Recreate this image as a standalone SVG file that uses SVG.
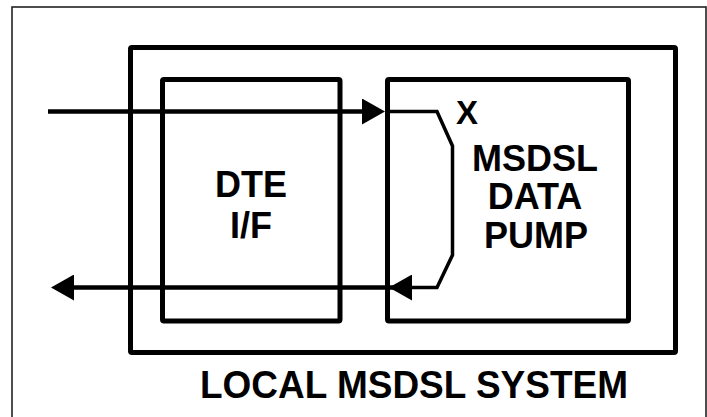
<svg xmlns="http://www.w3.org/2000/svg" width="707" height="417" viewBox="0 0 707 417">
  <style>
    .frame { fill: none; stroke: #222; stroke-width: 1.6; }
    .box { fill: none; stroke: #000; stroke-width: 5; stroke-linejoin: round; }
    .wire { fill: none; stroke: #000; stroke-width: 4.5; }
    .inner { fill: none; stroke: #000; stroke-width: 3.5; stroke-linejoin: miter; }
    .lbl { font-family: "Liberation Sans", Arial, Helvetica, sans-serif; font-weight: bold; fill: #000; }
  </style>
  <defs>
    <marker id="arrow" markerUnits="userSpaceOnUse" viewBox="0 0 23 26" refX="13" refY="13" markerWidth="23" markerHeight="26" orient="auto">
      <path d="M0,0 L23,13 L0,26 Z" fill="#000"/>
    </marker>
  </defs>
  <rect class="frame" x="12" y="7" width="694" height="420"/>

  <g id="local-msdsl-system">
    <rect class="box" x="130.5" y="47.5" width="545" height="305" rx="1.5"/>
    <text class="lbl" x="414" y="397.5" font-size="38" text-anchor="middle" textLength="428" lengthAdjust="spacingAndGlyphs">LOCAL MSDSL SYSTEM</text>
  </g>

  <g id="dte-if">
    <rect class="box" x="162.5" y="79.5" width="177.5" height="241.5" rx="1.5"/>
    <text class="lbl" x="251" y="197.3" font-size="36" text-anchor="middle">DTE</text>
    <text class="lbl" x="251" y="238.3" font-size="36" text-anchor="middle">I/F</text>
  </g>

  <g id="msdsl-data-pump">
    <rect class="box" x="387.5" y="79.5" width="241" height="241.5" rx="1.5"/>
    <text class="lbl" x="456" y="124" font-size="33">X</text>
    <text class="lbl" x="535" y="170.7" font-size="36" text-anchor="middle">MSDSL</text>
    <text class="lbl" x="535" y="209.3" font-size="36" text-anchor="middle">DATA</text>
    <text class="lbl" x="536" y="248.3" font-size="36" text-anchor="middle">PUMP</text>
  </g>

  <g id="connectors">
    <path class="wire" d="M48,111.5 H375" marker-end="url(#arrow)"/>
    <path class="inner" d="M387,111.5 H437 L452.5,146 V255 L437,287.5 H405"/>
    <path class="wire" d="M410,287.5 H399" marker-end="url(#arrow)"/>
    <path class="wire" d="M399,287.5 H61" marker-end="url(#arrow)"/>
  </g>
</svg>
